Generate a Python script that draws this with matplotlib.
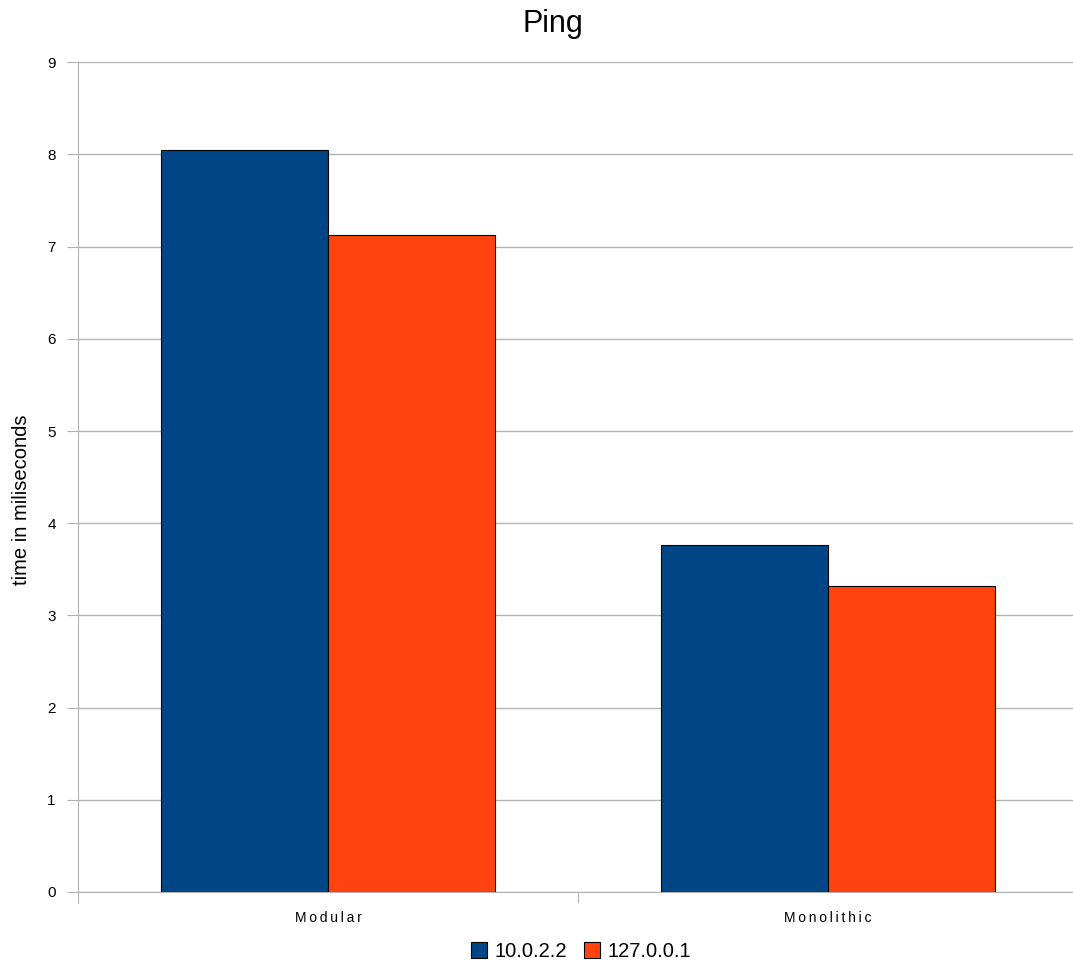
import matplotlib
matplotlib.use('Agg')
import matplotlib.pyplot as plt
import numpy as np

plt.rcParams['font.family'] = ['Liberation Sans', 'DejaVu Sans']

categories = ['Modular', 'Monolithic']
series_names = ['10.0.2.2', '127.0.0.1']
ping_10 = [8.05, 3.76]
ping_127 = [7.13, 3.32]
colors = ['#004586', '#ff420e']

fig = plt.figure(figsize=(10.73, 9.67), dpi=100)
ax = fig.add_axes([0.0727, 0.0776, 0.932, 0.858])

x = np.arange(len(categories))
w = 0.334
ax.bar(x - w / 2, ping_10, w, color=colors[0], edgecolor='black', linewidth=0.8,
       label=series_names[0], zorder=3)
ax.bar(x + w / 2, ping_127, w, color=colors[1], edgecolor='black', linewidth=0.8,
       label=series_names[1], zorder=3)

ax.set_xlim(-0.5, 1.5)
ax.set_ylim(0, 9)
ax.set_yticks(np.arange(0, 10))
ax.yaxis.grid(True, color='#b3b3b3', linewidth=1, zorder=0)

# category boundaries carry the ticks, labels go in the middle
ax.set_xticks([-0.5, 0.5, 1.5])
ax.set_xticklabels([])
ax.set_xticks(x, minor=True)
spaced = ['\u2009'.join(c) for c in categories]
ax.set_xticklabels(spaced, minor=True, fontsize=10)
ax.tick_params(axis='x', which='minor', length=0, pad=14)
ax.tick_params(axis='x', which='major', length=8, color='#b3b3b3')
ax.tick_params(axis='y', length=8, color='#b3b3b3', labelsize=11, pad=8)

for s in ['top', 'right']:
    ax.spines[s].set_visible(False)
for s in ['left', 'bottom']:
    ax.spines[s].set_color('#b3b3b3')

ax.set_ylabel('time in miliseconds', fontsize=14.5)
ax.yaxis.set_label_coords(-0.047, 0.473)
fig.text(0.515, 0.975, 'Ping', fontsize=22, ha='center', va='center')

ax.legend(loc='center', bbox_to_anchor=(0.503, -0.072), ncol=2, frameon=False,
          fontsize=14.5, handlelength=0.8, handleheight=0.8, handletextpad=0.4,
          columnspacing=0.8, borderaxespad=0)

fig.savefig('out.png', dpi=100)
